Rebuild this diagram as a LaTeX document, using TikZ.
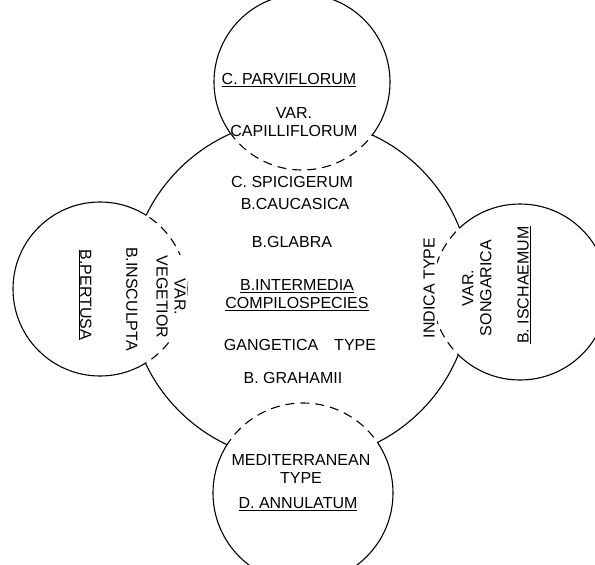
\documentclass[tikz,border=0pt]{standalone}
\usepackage{fontspec}
\setmainfont{Liberation Sans}
\begin{document}
\begin{tikzpicture}[x=1pt,y=-1pt,
  font=\fontsize{16}{18}\selectfont,
  lbl/.style={align=center, inner sep=0pt},
  ln/.style={line width=1.1pt},
  dsh/.style={line width=1.1pt, dash pattern=on 9pt off 6pt}]
\useasboundingbox (0,0) rectangle (595,565);
\coordinate (cc) at (300,290);
\coordinate (ct) at (302,82);
\coordinate (cl) at (100,289);
\coordinate (cr) at (520,292);
\coordinate (cb) at (303,493);
% central circle, outside the satellites
\begin{scope}[even odd rule]
\clip (-20,-20) rectangle (615,585)
  (ct) circle[radius=88pt] (cl) circle[radius=87pt]
  (cr) circle[radius=88pt] (cb) circle[radius=90pt];
\draw[ln] (cc) circle[radius=171pt];
\end{scope}
% satellites inside central: dashed
\begin{scope}
\clip (cc) circle[radius=171pt];
\draw[dsh] (ct) circle[radius=88pt];
\draw[dsh] (cl) circle[radius=87pt];
\draw[dsh] (cr) circle[radius=88pt];
\draw[dsh] (cb) circle[radius=90pt];
\end{scope}
% satellites outside central: solid
\begin{scope}[even odd rule]
\clip (-20,-20) rectangle (615,585) (cc) circle[radius=171pt];
\draw[ln] (ct) circle[radius=88pt];
\draw[ln] (cl) circle[radius=87pt];
\draw[ln] (cr) circle[radius=88pt];
\draw[ln] (cb) circle[radius=90pt];
\end{scope}
% top
\node[lbl] (t1) at (289,80) {\underline{C. PARVIFLORUM}};
\node[lbl] (t2) at (294,122) {VAR.\\CAPILLIFLORUM};
% centre
\node[lbl] (c1) at (292,182) {C. SPICIGERUM};
\node[lbl] (c2) at (295,204) {B.CAUCASICA};
\node[lbl] (c3) at (292,242) {B.GLABRA};
\node[lbl] (c4) at (297,295) {\underline{B.INTERMEDIA}\\\underline{COMPILOSPECIES}};
\node[lbl] (c5) at (300,345) {GANGETICA\quad TYPE};
\node[lbl] (c6) at (293,378) {B. GRAHAMII};
% bottom
\node[lbl] (b1) at (301,469) {MEDITERRANEAN\\TYPE};
\node[lbl] (b2) at (298,504) {\underline{D. ANNULATUM}};
% left
\node[lbl, rotate=-90, fill=white, inner sep=1pt] (l1) at (171,297) {VAR.\\VEGETIOR};
\node[lbl, rotate=-90] (l2) at (132,299) {B.INSCULPTA};
\node[lbl, rotate=-90] (l3) at (85,295) {\underline{B.PERTUSA}};
% right
\node[lbl, rotate=90, fill=white, inner sep=2pt] (r1) at (429,288) {INDICA TYPE};
\node[lbl, rotate=90] (r2) at (477,288) {VAR.\\SONGARICA};
\node[lbl, rotate=90] (r3) at (524,285) {\underline{B. ISCHAEMUM}};
\end{tikzpicture}
\end{document}
